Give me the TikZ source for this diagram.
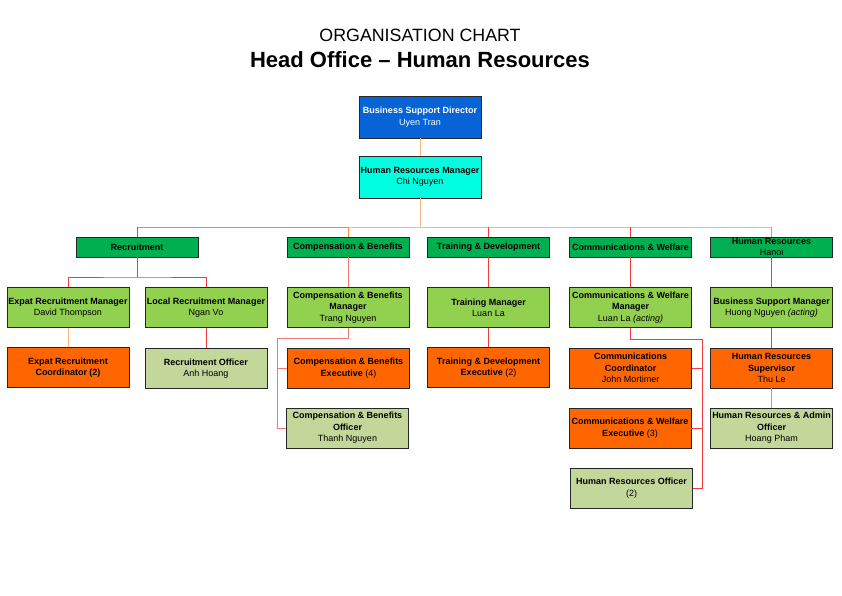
\documentclass[tikz,border=0pt]{standalone}
\usepackage{fontspec}
\setmainfont{Liberation Sans}
\usepackage{xcolor}
\usepackage{tikz}
\usetikzlibrary{calc}

\definecolor{dirblue}{RGB}{6,100,214}
\definecolor{hrcyan}{RGB}{0,255,224}
\definecolor{deptgreen}{RGB}{0,176,80}
\definecolor{leadgreen}{RGB}{146,208,80}
\definecolor{staffor}{RGB}{255,102,0}
\definecolor{offolive}{RGB}{196,215,155}
\definecolor{lred}{RGB}{240,60,60}
\definecolor{lpink}{RGB}{245,120,120}
\definecolor{lpeach}{RGB}{250,180,130}
\definecolor{lorange}{RGB}{248,140,50}

\begin{document}
\begin{tikzpicture}[
  x=1pt,
  y=-1pt,
  font=\fontsize{9}{11.4}\selectfont,
  box/.style={draw=black!85, line width=0.9pt, rectangle, align=center,
    minimum width=122pt, minimum height=40pt, inner xsep=1pt, inner ysep=0pt},
  director/.style={box, fill=dirblue, text=white, minimum height=42pt},
  hrman/.style={box, fill=hrcyan, minimum height=42pt},
  dept/.style={box, fill=deptgreen, minimum height=20pt},
  lead/.style={box, fill=leadgreen},
  staff/.style={box, fill=staffor},
  officer/.style={box, fill=offolive},
  redline/.style={draw=lred, line width=1pt},
  pinkline/.style={draw=lpink, line width=1pt},
  peachline/.style={draw=lpeach, line width=1pt},
  orangeline/.style={draw=lorange, line width=1pt}
]
  \useasboundingbox (0,0) rectangle (842,595);

  \node (title) at (420,35) {\fontsize{17.8}{20}\selectfont ORGANISATION CHART};
  \node (subtitle) at (420,60) {\fontsize{22}{24}\selectfont\bfseries Head Office -- Human Resources};

  % top
  \node[director] (bsd) at (420,117) {\textbf{Business Support Director}\\Uyen Tran};
  \node[hrman] (hrm) at (420,177) {\textbf{Human Resources Manager}\\Chi Nguyen};

  % departments
  \node[dept] (rec) at (137,247) {\textbf{Recruitment}};
  \node[dept] (cb) at (348,247) {\textbf{Compensation \& Benefits}};
  \node[dept] (td) at (488.5,247) {\textbf{Training \& Development}};
  \node[dept] (cw) at (630.5,247) {\textbf{Communications \& Welfare}};
  \node[dept] (hanoi) at (771.5,247) {\textbf{Human Resources}\\Hanoi};

  % managers
  \node[lead] (erm) at (68,307.5) {\textbf{Expat Recruitment Manager}\\David Thompson};
  \node[lead] (lrm) at (206,307.5) {\textbf{Local Recruitment Manager}\\Ngan Vo};
  \node[lead] (cbm) at (348,307.5) {\textbf{Compensation \& Benefits}\\\textbf{Manager}\\Trang Nguyen};
  \node[lead] (tm) at (488.5,307.5) {\textbf{Training Manager}\\Luan La};
  \node[lead] (cwm) at (630.5,307.5) {\textbf{Communications \& Welfare}\\\textbf{Manager}\\Luan La \textit{(acting)}};
  \node[lead] (bsm) at (771.5,307.5) {\textbf{Business Support Manager}\\Huong Nguyen \textit{(acting)}};

  % staff
  \node[staff] (erc) at (68,367.5) {\textbf{Expat Recruitment}\\\textbf{Coordinator (2)}};
  \node[officer] (ro) at (206,368.5) {\textbf{Recruitment Officer}\\Anh Hoang};
  \node[staff] (cbe) at (348.5,368) {\textbf{Compensation \& Benefits}\\\textbf{Executive} (4)};
  \node[staff] (tde) at (488.5,367.5) {\textbf{Training \& Development}\\\textbf{Executive} (2)};
  \node[staff] (cc) at (630.5,368) {\textbf{Communications}\\\textbf{Coordinator}\\John Mortimer};
  \node[staff] (hrs) at (771.5,368) {\textbf{Human Resources}\\\textbf{Supervisor}\\Thu Le};

  \node[officer] (cbo) at (347.5,428) {\textbf{Compensation \& Benefits}\\\textbf{Officer}\\Thanh Nguyen};
  \node[staff] (cwe) at (630,428) {\textbf{Communications \& Welfare}\\\textbf{Executive} (3)};
  \node[officer] (hrao) at (771.5,428) {\textbf{Human Resources \& Admin}\\\textbf{Officer}\\Hoang Pham};
  \node[officer] (hro) at (631.5,488) {\textbf{Human Resources Officer}\\(2)};

  % connectors
  \coordinate (bus) at (420,227);
  \coordinate (recsplit) at (137,277);
  \coordinate (cbsplit) at (277,338);
  \coordinate (cwsplit) at (702,339);

  \draw[peachline] (bsd) -- (hrm);
  \draw[peachline] (hrm) -- (bus);
  \draw[pinkline] (rec.north) |- (cb.north|-bus);
  \draw[peachline] (cb.north|-bus) -- (hanoi.north|-bus);
  \draw[redline] (rec.north) -- (rec.north|-bus);
  \draw[orangeline] (cb) -- (cb.north|-bus);
  \draw[redline] (td) -- (td.north|-bus);
  \draw[redline] (cw) -- (cw.north|-bus);
  \draw[orangeline] (hanoi) -- (hanoi.north|-bus);

  \draw[redline] (rec) -- (recsplit);
  \draw[redline] (erm.north) |- (recsplit) -| (lrm.north);
  \draw[peachline] (erm) -- (erc);
  \draw[redline] (lrm) -- (ro);

  \draw[pinkline] (cb) -- (cbm);
  \draw[pinkline] (cbm.south) |- (cbsplit) |- (cbo.west);
  \draw[pinkline] (cbsplit) |- (cbe.west);

  \draw[redline] (td) -- (tm);
  \draw[redline] (tm) -- (tde);

  \draw[redline] (cw) -- (cwm);
  \draw[redline] (cwm.south) |- (cwsplit) |- (hro.east);
  \draw[redline] (cwsplit) |- (cc.east);
  \draw[redline] (cwsplit) |- (cwe.east);

  \draw[redline] (hanoi) -- (bsm);
  \draw[redline] (bsm) -- (hrs);
  \draw[orangeline] (hrs) -- (hrao);
\end{tikzpicture}
\end{document}
